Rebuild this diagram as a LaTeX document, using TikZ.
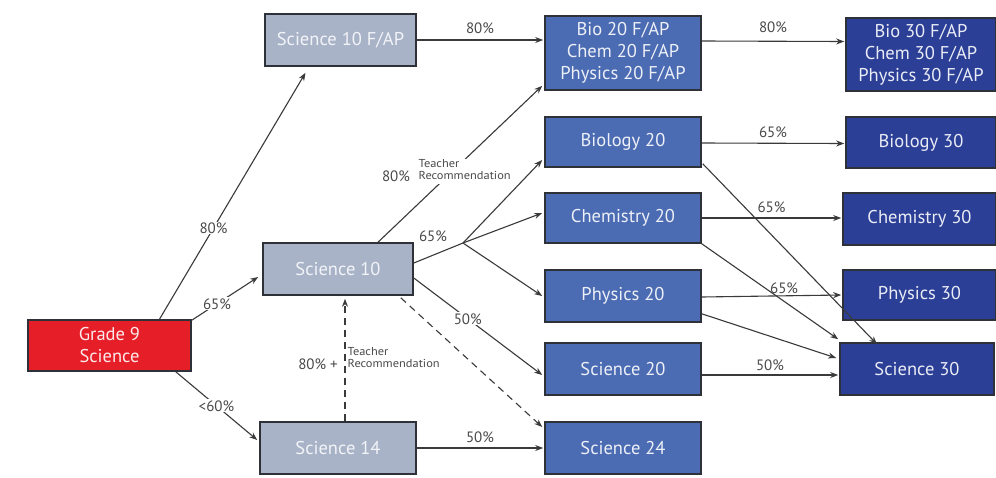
\documentclass[tikz,border=0pt]{standalone}
\usepackage{fontspec}
\usepackage{graphicx}
\setmainfont{PT Sans}
\usetikzlibrary{arrows.meta,calc}
\definecolor{greybox}{HTML}{A8B3C8}
\definecolor{midblue}{HTML}{4B6BB3}
\definecolor{darkblue}{HTML}{2B3F97}
\definecolor{redbox}{HTML}{E61E28}
\definecolor{edge}{HTML}{2E3138}
\definecolor{linec}{HTML}{3A3A3A}
\definecolor{labc}{HTML}{4A4A4A}
\newcommand{\tinylab}{\scalebox{1.08}[1]{\begin{tabular}{@{}l@{}}Teacher\\Recommendation\end{tabular}}}
\tikzset{
  box/.style={draw=edge, line width=1.6pt, inner sep=0pt, align=center, font=\fontsize{18.5}{22}\selectfont},
  gbox/.style={box, fill=greybox, text=white!85!greybox},
  mbox/.style={box, fill=midblue, text=white!90!midblue},
  dbox/.style={box, fill=darkblue, text=white!90!darkblue},
  rbox/.style={box, fill=redbox, text=white!90!redbox},
  conn/.style={draw=linec, line width=1.1pt, -{Stealth[length=8pt,width=6pt]}},
  dconn/.style={conn, dash pattern=on 7pt off 5pt},
  pct/.style={text=labc, font=\fontsize{15}{16}\selectfont, inner sep=1pt},
  tiny/.style={text=labc, font=\fontsize{11.5}{12}\selectfont, inner sep=0.5pt},
}
\begin{document}
\begin{tikzpicture}[x=1pt,y=-1pt]
\useasboundingbox (0,0) rectangle (996,477);
\fill[white] (0,0) rectangle (996,477);
% nodes
\node[gbox, minimum width=151pt, minimum height=52pt] (s10f) at (340.5,40) {Science 10 F/AP};
\node[mbox, minimum width=156pt, minimum height=74pt] (b20f) at (623,53) {Bio 20 F/AP\\Chem 20 F/AP\\Physics 20 F/AP};
\node[dbox, minimum width=150pt, minimum height=73pt] (b30f) at (921,54.5) {Bio 30 F/AP\\Chem 30 F/AP\\Physics 30 F/AP};
\node[mbox, minimum width=156pt, minimum height=50pt] (bio20) at (623,142) {Biology 20};
\node[dbox, minimum width=150pt, minimum height=51pt] (bio30) at (921,142.5) {Biology 30};
\node[mbox, minimum width=156pt, minimum height=50pt] (chem20) at (623,218) {Chemistry 20};
\node[dbox, minimum width=153pt, minimum height=52pt] (chem30) at (919.5,219) {Chemistry 30};
\node[mbox, minimum width=156pt, minimum height=52pt] (phys20) at (623,296) {Physics 20};
\node[dbox, minimum width=153pt, minimum height=50pt] (phys30) at (919.5,295) {Physics 30};
\node[mbox, minimum width=156pt, minimum height=52pt] (sci20) at (623,369) {Science 20};
\node[dbox, minimum width=154pt, minimum height=52pt] (sci30) at (917,369) {Science 30};
\node[mbox, minimum width=156pt, minimum height=52pt] (sci24) at (623,448) {Science 24};
\node[rbox, minimum width=163pt, minimum height=51pt] (g9) at (109.5,345.5) {Grade 9\\Science};
\node[gbox, minimum width=150pt, minimum height=52pt] (s10) at (338,269) {Science 10};
\node[gbox, minimum width=156pt, minimum height=52pt] (s14) at (338,448) {Science 14};
\coordinate (br) at (463,243);
% connectors from Grade 9
\draw[conn] ([xshift=50pt]g9.north) -- node[pct, fill=white, pos=0.37] {80\%} ([xshift=-35pt,yshift=-6pt]s10f.south);
\draw[conn] ([yshift=-1pt]g9.north east) -- node[pct, fill=white, pos=0.38] {65\%} ([xshift=-4pt,yshift=-8pt]s10.west);
\draw[conn] ([xshift=-16pt]g9.south east) -- node[pct, fill=white, pos=0.5] {<60\%} ([xshift=-2pt,yshift=8pt]s14.west);
% Science 14 up to Science 10
\draw[dconn] ([xshift=7pt]s14.north) -- ([xshift=7pt,yshift=-3pt]s10.south);
\node[pct, anchor=east] (l1) at (339,364) {80\% +};
\node[tiny, anchor=west] (l2) at (347,359) {\tinylab};
% from Science 10
\draw[conn] ([xshift=40pt]s10.north) -- ([xshift=-2pt,yshift=5pt]b20f.south west);
\node[tiny, fill=white, anchor=west] (l3) at (418,171) {\tinylab};
\node[pct] (l4) at (396,176) {80\%};
\draw[draw=linec, line width=1.1pt] ([yshift=6pt]s10.east) -- (br);
\node[pct] (l5) at (433,236) {65\%};
\draw[conn] (br) -- ([xshift=-2pt,yshift=-18pt]bio20.west);
\draw[conn] (br) -- ([xshift=-2pt,yshift=5pt]chem20.west);
\draw[conn] (br) -- ([xshift=-2pt]phys20.west);
\draw[conn] ([yshift=-9pt]s10.east) -- node[pct, fill=white, pos=0.42] {50\%} ([xshift=-2pt,yshift=-6pt]sci20.west);
\draw[dconn] ([xshift=-13pt,yshift=-2pt]s10.south east) -- ([xshift=-2pt,yshift=21pt]sci24.west);
\draw[conn] (s14.east) -- node[pct, above=4pt] {50\%} ([xshift=-1pt]sci24.west);
% to Grade 11
\draw[conn] (s10f.east) -- node[pct, above=5pt] {80\%} ([xshift=-1pt,yshift=13pt]b20f.west);
% Grade 11 to Grade 12
\draw[conn] ([yshift=12pt]b20f.east) -- node[pct, above=7pt] {80\%} ([xshift=-1pt,yshift=13pt]b30f.west);
\draw[conn] ([yshift=-1pt]bio20.east) -- node[pct, above=4pt] {65\%} ([xshift=-1pt,yshift=-1pt]bio30.west);
\draw[conn] ([xshift=1pt,yshift=4pt]bio20.south east) -- ([xshift=-40pt,yshift=-2pt]sci30.north);
\draw[conn] (chem20.east) -- node[pct, above=4pt] {65\%} ([xshift=-1pt,yshift=1pt]chem30.west);
\draw[conn] (chem20.south east) -- ([xshift=-1pt,yshift=3pt]sci30.north west);
\draw[conn] ([yshift=-1pt]phys20.east) -- node[pct, pos=0.59, above=1pt] {65\%} ([xshift=-1pt]phys30.west);
\draw[conn] ([yshift=9pt]phys20.south east) -- ([xshift=-3pt,yshift=11pt]sci30.west);
\draw[conn] ([yshift=-6pt]sci20.east) -- node[pct, above=3pt] {50\%} ([xshift=-1pt,yshift=-6pt]sci30.west);
\end{tikzpicture}
\end{document}
